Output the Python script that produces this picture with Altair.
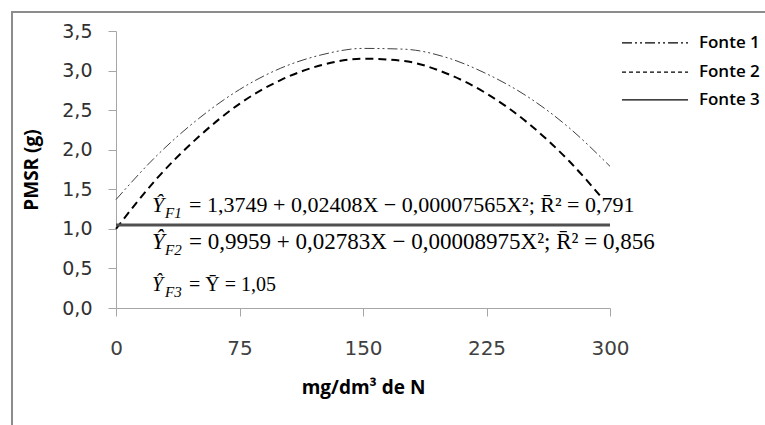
import altair as alt
import pandas as pd

# ---- data ----
x_vals = [0, 25, 50, 75, 100, 125, 150, 175, 200, 225, 250, 275, 300]
fonte1 = [1.37, 1.93, 2.39, 2.76, 3.03, 3.20, 3.28, 3.27, 3.17, 2.96, 2.67, 2.28, 1.79]
fonte2 = [1.00, 1.64, 2.16, 2.58, 2.88, 3.07, 3.15, 3.12, 2.97, 2.71, 2.34, 1.86, 1.27]
fonte3 = [1.05, 1.05, 1.05, 1.05, 1.05, 1.05, 1.05, 1.05, 1.05, 1.05, 1.05, 1.05, 1.05]
series_names = ["Fonte 1", "Fonte 2", "Fonte 3"]
x_ticks = [0, 75, 150, 225, 300]
y_ticks = [0.0, 0.5, 1.0, 1.5, 2.0, 2.5, 3.0, 3.5]

# equation annotations
eq_hat = ["Ŷ", "Ŷ", "Ŷ"]
eq_sub = ["F1", "F2", "F3"]
eq_body = [
    "= 1,3749 + 0,02408X − 0,00007565X²; R\u0304² = 0,791",
    "= 0,9959 + 0,02783X − 0,00008975X²; R\u0304² = 0,856",
    "= Ȳ = 1,05",
]
eq_size = [22, 23, 20]
eq_x = [21.9, 21.9, 21.9]
eq_y = [1.213, 0.745, 0.215]
mask_box = [21, 300, 1.10, 1.41]

# legend (drawn as an annotation to the right of the plot area)
leg_y = [3.35, 2.98, 2.63]
leg_key_x = [307.3, 347.4]
leg_label_x = 354.0
leg_dash = [[10, 3, 2, 3, 2, 3], [4, 3], [1, 0]]

rows = []
for name, ys in zip(series_names, [fonte1, fonte2, fonte3]):
    for xv, yv in zip(x_vals, ys):
        rows.append({"x": xv, "y": yv, "serie": name, "s_w": name, "s_c": name})
df = pd.DataFrame(rows)

ann = pd.DataFrame({"x": eq_x, "y": eq_y, "hat": eq_hat, "sub": eq_sub,
                    "body": eq_body, "fs": eq_size})
mask_df = pd.DataFrame({"x": [mask_box[0]], "x2": [mask_box[1]],
                        "y": [mask_box[2]], "y2": [mask_box[3]]})
leg_df = pd.DataFrame({"serie": series_names, "y": leg_y,
                       "x": [leg_key_x[0]] * 3, "x2": [leg_key_x[1]] * 3,
                       "xl": [leg_label_x] * 3, "dash": leg_dash})

W, H = 494, 277
xs = alt.Scale(domain=[0, 300], nice=False, zero=False)
ys_ = alt.Scale(domain=[0, 3.5], nice=False)

x_axis = alt.Axis(values=x_ticks, tickCount=20, grid=False, labelFont="DejaVu Sans",
                  labelFontSize=20, labelColor="#404040", labelFlush=False,
                  labelOverlap=False, labelPadding=22,
                  domainColor="#a6a6a6", tickColor="#a6a6a6", tickSize=8,
                  title="mg/dm³ de N", titleFont="Open Sans", titleFontWeight="bold",
                  titleFontSize=19, titleColor="black", titleX=247, titleY=85,
                  titleAlign="center", titleBaseline="alphabetic")
y_axis = alt.Axis(values=y_ticks, tickCount=20, grid=False, labelFont="DejaVu Sans",
                  labelFontSize=19, labelColor="#303030", labelFlush=False,
                  labelOverlap=False, labelPadding=16,
                  labelExpr="replace(format(datum.value, '.1f'), '.', ',')",
                  domainColor="#a6a6a6", tickColor="#a6a6a6", tickSize=8,
                  title="PMSR (g)", titleFont="Open Sans", titleFontWeight="bold",
                  titleFontSize=19, titleColor="black", titleX=-85, titleY=138.5,
                  titleAngle=270, titleAlign="center", titleBaseline="middle")

lines = alt.Chart(df).mark_line(interpolate="monotone").encode(
    x=alt.X("x:Q", scale=xs, axis=x_axis),
    y=alt.Y("y:Q", scale=ys_, axis=y_axis),
    strokeDash=alt.StrokeDash(
        "serie:N",
        scale=alt.Scale(domain=series_names,
                        range=[[10, 3, 2, 3, 2, 3], [8, 5], [1, 0]]),
        legend=None),
    strokeWidth=alt.StrokeWidth("s_w:N",
                                scale=alt.Scale(domain=series_names, range=[1, 3, 1.4]),
                                legend=None),
    color=alt.Color("s_c:N",
                    scale=alt.Scale(domain=series_names,
                                    range=["#404040", "#000000", "#505050"]),
                    legend=None),
)

mask = alt.Chart(mask_df).mark_rect(fill="white").encode(
    x="x:Q", x2="x2:Q", y="y:Q", y2="y2:Q")

hat = alt.Chart(ann).mark_text(font="Liberation Serif", fontStyle="italic",
                               align="left", baseline="alphabetic", color="black").encode(
    x="x:Q", y="y:Q", text="hat:N", size=alt.Size("fs:Q", scale=None))
sub = alt.Chart(ann).mark_text(font="Liberation Serif", fontStyle="italic", fontSize=15,
                               align="left", baseline="alphabetic", color="black",
                               dx=13, dy=6).encode(
    x="x:Q", y="y:Q", text="sub:N")
body = alt.Chart(ann).mark_text(font="Liberation Serif", align="left",
                                baseline="alphabetic", color="black", dx=37).encode(
    x="x:Q", y="y:Q", text="body:N", size=alt.Size("fs:Q", scale=None))

leg_keys = alt.Chart(leg_df).mark_rule(color="black", strokeWidth=1.3).encode(
    x="x:Q", x2="x2:Q", y="y:Q",
    strokeDash=alt.StrokeDash("dash", scale=None, legend=None))
leg_labels = alt.Chart(leg_df).mark_text(font="Open Sans", fontSize=17, fontWeight=600,
                                         align="left", baseline="middle",
                                         color="black").encode(
    x="xl:Q", y="y:Q", text="serie:N")

frame_src = pd.DataFrame({"a": [0]})
frame_left = alt.Chart(frame_src).mark_rule(color="#8c8c8c", strokeWidth=2).encode(
    x=alt.value(-104), y=alt.value(-19), y2=alt.value(400))
frame_top = alt.Chart(frame_src).mark_rule(color="#8c8c8c", strokeWidth=2).encode(
    x=alt.value(-105), x2=alt.value(660), y=alt.value(-19))

chart = alt.layer(lines, mask, hat, sub, body, leg_keys, leg_labels,
                  frame_left, frame_top).properties(
    width=W, height=H,
    autosize=alt.AutoSizeParams(type="none"),
    padding={"left": 116, "top": 31, "right": 155, "bottom": 117},
    background="white",
).configure_view(stroke=None)

chart.save("out.html", embed_options={"renderer": "svg", "actions": False})
